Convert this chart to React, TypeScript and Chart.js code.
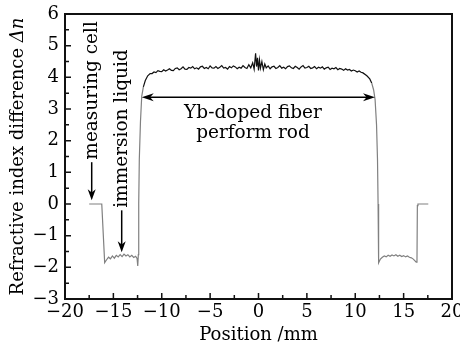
import React, { useEffect, useRef } from 'react';
import { Chart, registerables } from 'chart.js';

Chart.register(...registerables);

const FONT = '"DejaVu Serif", serif';

// ---- data (Position in mm, refractive index difference Δn) ----
const leftPos = [-17.5, -16.2, -15.9, -15.7, -15.5, -15.3, -15.1, -14.9, -14.7, -14.5, -14.3, -14.1, -13.9, -13.7, -13.5, -13.3, -13.1, -12.9, -12.7, -12.55, -12.48, -12.42, -12.38, -12.32, -12.2, -12.07, -11.9, -11.7, -11.45, -11.2];
const leftDn = [0, 0, -1.85, -1.76, -1.68, -1.73, -1.64, -1.71, -1.62, -1.67, -1.6, -1.66, -1.58, -1.64, -1.6, -1.67, -1.62, -1.69, -1.65, -1.72, -1.96, -1.6, 0, 1.4, 2.6, 3.4, 3.7, 3.9, 4.05, 4.12];

const corePos = [-11.0, -10.8, -10.6, -10.4, -10.2, -10.0, -9.8, -9.6, -9.4, -9.2, -9.0, -8.8, -8.6, -8.4, -8.2, -8.0, -7.8, -7.6, -7.4, -7.2, -7.0, -6.8, -6.6, -6.4, -6.2, -6.0, -5.8, -5.6, -5.4, -5.2, -5.0, -4.8, -4.6, -4.4, -4.2, -4.0, -3.8, -3.6, -3.4, -3.2, -3.0, -2.8, -2.6, -2.4, -2.2, -2.0, -1.8, -1.6, -1.4, -1.2, -1.0, -0.8, -0.6, -0.45, -0.3, -0.2, -0.1, 0.0, 0.1, 0.2, 0.35, 0.5, 0.65, 0.8, 1.0, 1.2, 1.4, 1.6, 1.8, 2.0, 2.2, 2.4, 2.6, 2.8, 3.0, 3.2, 3.4, 3.6, 3.8, 4.0, 4.2, 4.4, 4.6, 4.8, 5.0, 5.2, 5.4, 5.6, 5.8, 6.0, 6.2, 6.4, 6.6, 6.8, 7.0, 7.2, 7.4, 7.6, 7.8, 8.0, 8.2, 8.4, 8.6, 8.8, 9.0, 9.2, 9.4, 9.6, 9.8, 10.0, 10.2, 10.4, 10.6, 10.8];
const coreDn = [4.12, 4.17, 4.15, 4.21, 4.19, 4.18, 4.24, 4.2, 4.23, 4.27, 4.22, 4.21, 4.28, 4.3, 4.24, 4.27, 4.33, 4.26, 4.25, 4.31, 4.29, 4.34, 4.27, 4.3, 4.26, 4.33, 4.35, 4.28, 4.31, 4.27, 4.36, 4.3, 4.29, 4.34, 4.28, 4.32, 4.37, 4.29, 4.31, 4.26, 4.34, 4.3, 4.36, 4.33, 4.27, 4.32, 4.29, 4.37, 4.31, 4.28, 4.4, 4.3, 4.46, 4.26, 4.76, 4.34, 4.62, 4.22, 4.55, 4.29, 4.5, 4.24, 4.42, 4.3, 4.36, 4.27, 4.33, 4.35, 4.28, 4.31, 4.37, 4.29, 4.32, 4.27, 4.34, 4.36, 4.3, 4.28, 4.35, 4.31, 4.26, 4.33, 4.37, 4.29, 4.31, 4.35, 4.28, 4.3, 4.34, 4.27, 4.32, 4.29, 4.33, 4.26, 4.3, 4.32, 4.25, 4.29, 4.27, 4.31, 4.24, 4.28, 4.26, 4.22, 4.27, 4.23, 4.25, 4.2, 4.23, 4.21, 4.17, 4.2, 4.16, 4.14];

const rightPos = [11.2, 11.5, 11.7, 11.9, 12.05, 12.2, 12.3, 12.36, 12.4, 12.43, 12.6, 12.8, 13.0, 13.2, 13.4, 13.6, 13.8, 14.0, 14.2, 14.4, 14.6, 14.8, 15.0, 15.2, 15.4, 15.6, 15.8, 16.0, 16.15, 16.3, 16.38, 16.42, 16.48, 17.55];
const rightDn = [4.05, 3.95, 3.82, 3.6, 3.3, 2.5, 1.4, 0, -1.2, -1.86, -1.74, -1.68, -1.64, -1.67, -1.62, -1.65, -1.61, -1.64, -1.6, -1.65, -1.62, -1.66, -1.63, -1.67, -1.64, -1.68, -1.7, -1.74, -1.79, -1.84, -1.8, -0.05, 0, 0];

// ---- axis ticks ----
const xMajor = [-20, -15, -10, -5, 0, 5, 10, 15, 20];
const xMinor = [-17.5, -12.5, -7.5, -2.5, 2.5, 7.5, 12.5, 17.5];
const yMajor = [-3, -2, -1, 0, 1, 2, 3, 4, 5, 6];
const yMinor = [-2.5, -1.5, -0.5, 0.5, 1.5, 2.5, 3.5, 4.5, 5.5];

// ---- texts ----
const xTitle = 'Position /mm';
const yTitle = 'Refractive index difference ';
const yTitleItalic = 'Δn';
const cellLabel = 'measuring cell';
const liquidLabel = 'immersion liquid';
const rodLabel = ['Yb-doped fiber', 'perform rod'];

const fmt = (v: number) => String(v).replace('-', '\u2212');

function arrowHead(ctx: CanvasRenderingContext2D, x1: number, y1: number, x2: number, y2: number, len = 11, half = 4) {
  const a = Math.atan2(y2 - y1, x2 - x1);
  ctx.beginPath();
  ctx.moveTo(x2, y2);
  ctx.lineTo(x2 - len * Math.cos(a) + half * Math.sin(a), y2 - len * Math.sin(a) - half * Math.cos(a));
  ctx.lineTo(x2 - len * 0.7 * Math.cos(a), y2 - len * 0.7 * Math.sin(a));
  ctx.lineTo(x2 - len * Math.cos(a) - half * Math.sin(a), y2 - len * Math.sin(a) + half * Math.cos(a));
  ctx.closePath();
  ctx.fill();
}

function arrow(ctx: CanvasRenderingContext2D, x1: number, y1: number, x2: number, y2: number) {
  const a = Math.atan2(y2 - y1, x2 - x1);
  ctx.beginPath();
  ctx.moveTo(x1, y1);
  ctx.lineTo(x2 - 6 * Math.cos(a), y2 - 6 * Math.sin(a));
  ctx.stroke();
  arrowHead(ctx, x1, y1, x2, y2);
}

const decorPlugin = {
  id: 'decor',
  afterDraw(chart: any) {
    const { ctx, chartArea: ca } = chart;
    const xs = chart.scales.x;
    const ys = chart.scales.y;
    const X = (v: number) => xs.getPixelForValue(v);
    const Y = (v: number) => ys.getPixelForValue(v);
    ctx.save();
    ctx.strokeStyle = '#111';
    ctx.fillStyle = '#111';
    // frame
    ctx.lineWidth = 2;
    ctx.strokeRect(ca.left, ca.top, ca.right - ca.left, ca.bottom - ca.top);
    // inward ticks
    ctx.lineWidth = 1.5;
    ctx.beginPath();
    xMajor.forEach((v) => { ctx.moveTo(X(v), ca.bottom); ctx.lineTo(X(v), ca.bottom - 6); });
    xMinor.forEach((v) => { ctx.moveTo(X(v), ca.bottom); ctx.lineTo(X(v), ca.bottom - 4); });
    yMajor.forEach((v) => { ctx.moveTo(ca.left, Y(v)); ctx.lineTo(ca.left + 6, Y(v)); });
    yMinor.forEach((v) => { ctx.moveTo(ca.left, Y(v)); ctx.lineTo(ca.left + 4, Y(v)); });
    ctx.stroke();

    // y title with italic part
    ctx.fillStyle = '#000';
    const normalFont = `18px ${FONT}`;
    const italicFont = `italic 18px ${FONT}`;
    ctx.font = normalFont;
    const w1 = ctx.measureText(yTitle).width;
    ctx.font = italicFont;
    const w2 = ctx.measureText(yTitleItalic).width;
    ctx.save();
    ctx.translate(18, (ca.top + ca.bottom) / 2);
    ctx.rotate(-Math.PI / 2);
    ctx.textBaseline = 'middle';
    ctx.textAlign = 'left';
    ctx.font = normalFont;
    ctx.fillText(yTitle, -(w1 + w2) / 2, 0);
    ctx.font = italicFont;
    ctx.fillText(yTitleItalic, -(w1 + w2) / 2 + w1, 0);
    ctx.restore();

    // annotations
    const annFont = `18.5px ${FONT}`;
    ctx.strokeStyle = '#000';
    ctx.fillStyle = '#000';
    ctx.lineWidth = 1.5;
    ctx.font = annFont;
    // measuring cell
    const cx = X(-17.24);
    ctx.save();
    ctx.translate(cx, Y(1.4));
    ctx.rotate(-Math.PI / 2);
    ctx.textAlign = 'left';
    ctx.textBaseline = 'middle';
    ctx.fillText(cellLabel, 0, 0);
    ctx.restore();
    arrow(ctx, cx, Y(1.32), cx, Y(0.12));
    // immersion liquid
    const lx = X(-14.14);
    ctx.save();
    ctx.translate(lx, Y(-0.12));
    ctx.rotate(-Math.PI / 2);
    ctx.textAlign = 'left';
    ctx.textBaseline = 'middle';
    ctx.fillText(liquidLabel, 0, 0);
    ctx.restore();
    arrow(ctx, lx, Y(-0.2), lx, Y(-1.52));
    // rod double arrow
    const ay = Y(3.37);
    const ax1 = X(-12.07);
    const ax2 = X(12.04);
    ctx.beginPath();
    ctx.moveTo(ax1 + 6, ay);
    ctx.lineTo(ax2 - 6, ay);
    ctx.stroke();
    arrowHead(ctx, ax2, ay, ax1, ay, 12, 4);
    arrowHead(ctx, ax1, ay, ax2, ay, 12, 4);
    ctx.textAlign = 'center';
    ctx.textBaseline = 'alphabetic';
    ctx.fillText(rodLabel[0], X(-0.57), Y(2.71));
    ctx.fillText(rodLabel[1], X(-0.57), Y(2.07));
    ctx.restore();
  },
};

export default function App() {
  const ref = useRef<HTMLCanvasElement | null>(null);
  useEffect(() => {
    if (!ref.current) return;
    const pos = [...leftPos, ...corePos, ...rightPos];
    const dn = [...leftDn, ...coreDn, ...rightDn];
    const points = pos.map((p, i) => ({ x: p, y: dn[i] }));
    const chart = new Chart(ref.current, {
      type: 'line',
      data: {
        datasets: [
          {
            data: points,
            borderColor: '#222',
            borderWidth: 1.2,
            pointRadius: 0,
            tension: 0,
            fill: false,
            segment: {
              borderColor: (c: any) => (c.p0.parsed.y > 3.6 && c.p1.parsed.y > 3.6 ? '#111' : '#808080'),
            },
          },
        ],
      },
      options: {
        responsive: false,
        animation: false,
        events: [],
        layout: { padding: { left: 0, right: 8, top: 14, bottom: 0 } },
        plugins: { legend: { display: false }, tooltip: { enabled: false } },
        scales: {
          x: {
            type: 'linear',
            min: -20,
            max: 20,
            grid: { display: false, drawTicks: false },
            border: { display: false },
            afterBuildTicks: (s: any) => { s.ticks = xMajor.map((v) => ({ value: v })); },
            afterFit: (s: any) => { s.height = 45; s.paddingLeft = 0; s.paddingRight = 0; },
            ticks: { font: { family: FONT, size: 18 }, color: '#000', padding: 3, maxRotation: 0, autoSkip: false, callback: (v: any) => fmt(v) },
            title: { display: true, text: xTitle, color: '#000', font: { family: FONT, size: 18, lineHeight: 1 }, padding: { top: 0, bottom: 0 } },
          },
          y: {
            type: 'linear',
            min: -3,
            max: 6,
            grid: { display: false, drawTicks: false },
            border: { display: false },
            afterBuildTicks: (s: any) => { s.ticks = yMajor.map((v) => ({ value: v })); },
            afterFit: (s: any) => { s.width = 65; s.paddingTop = 0; s.paddingBottom = 0; },
            ticks: { font: { family: FONT, size: 18 }, color: '#000', padding: 6, autoSkip: false, callback: (v: any) => fmt(v) },
          },
        },
      } as any,
      plugins: [decorPlugin],
    });
    return () => chart.destroy();
  }, []);
  return (
    <div style={{ position: 'fixed', left: 0, top: 0, width: 460, height: 344, background: '#fff' }}>
      <canvas ref={ref} width={460} height={344} style={{ display: 'block' }} />
    </div>
  );
}
